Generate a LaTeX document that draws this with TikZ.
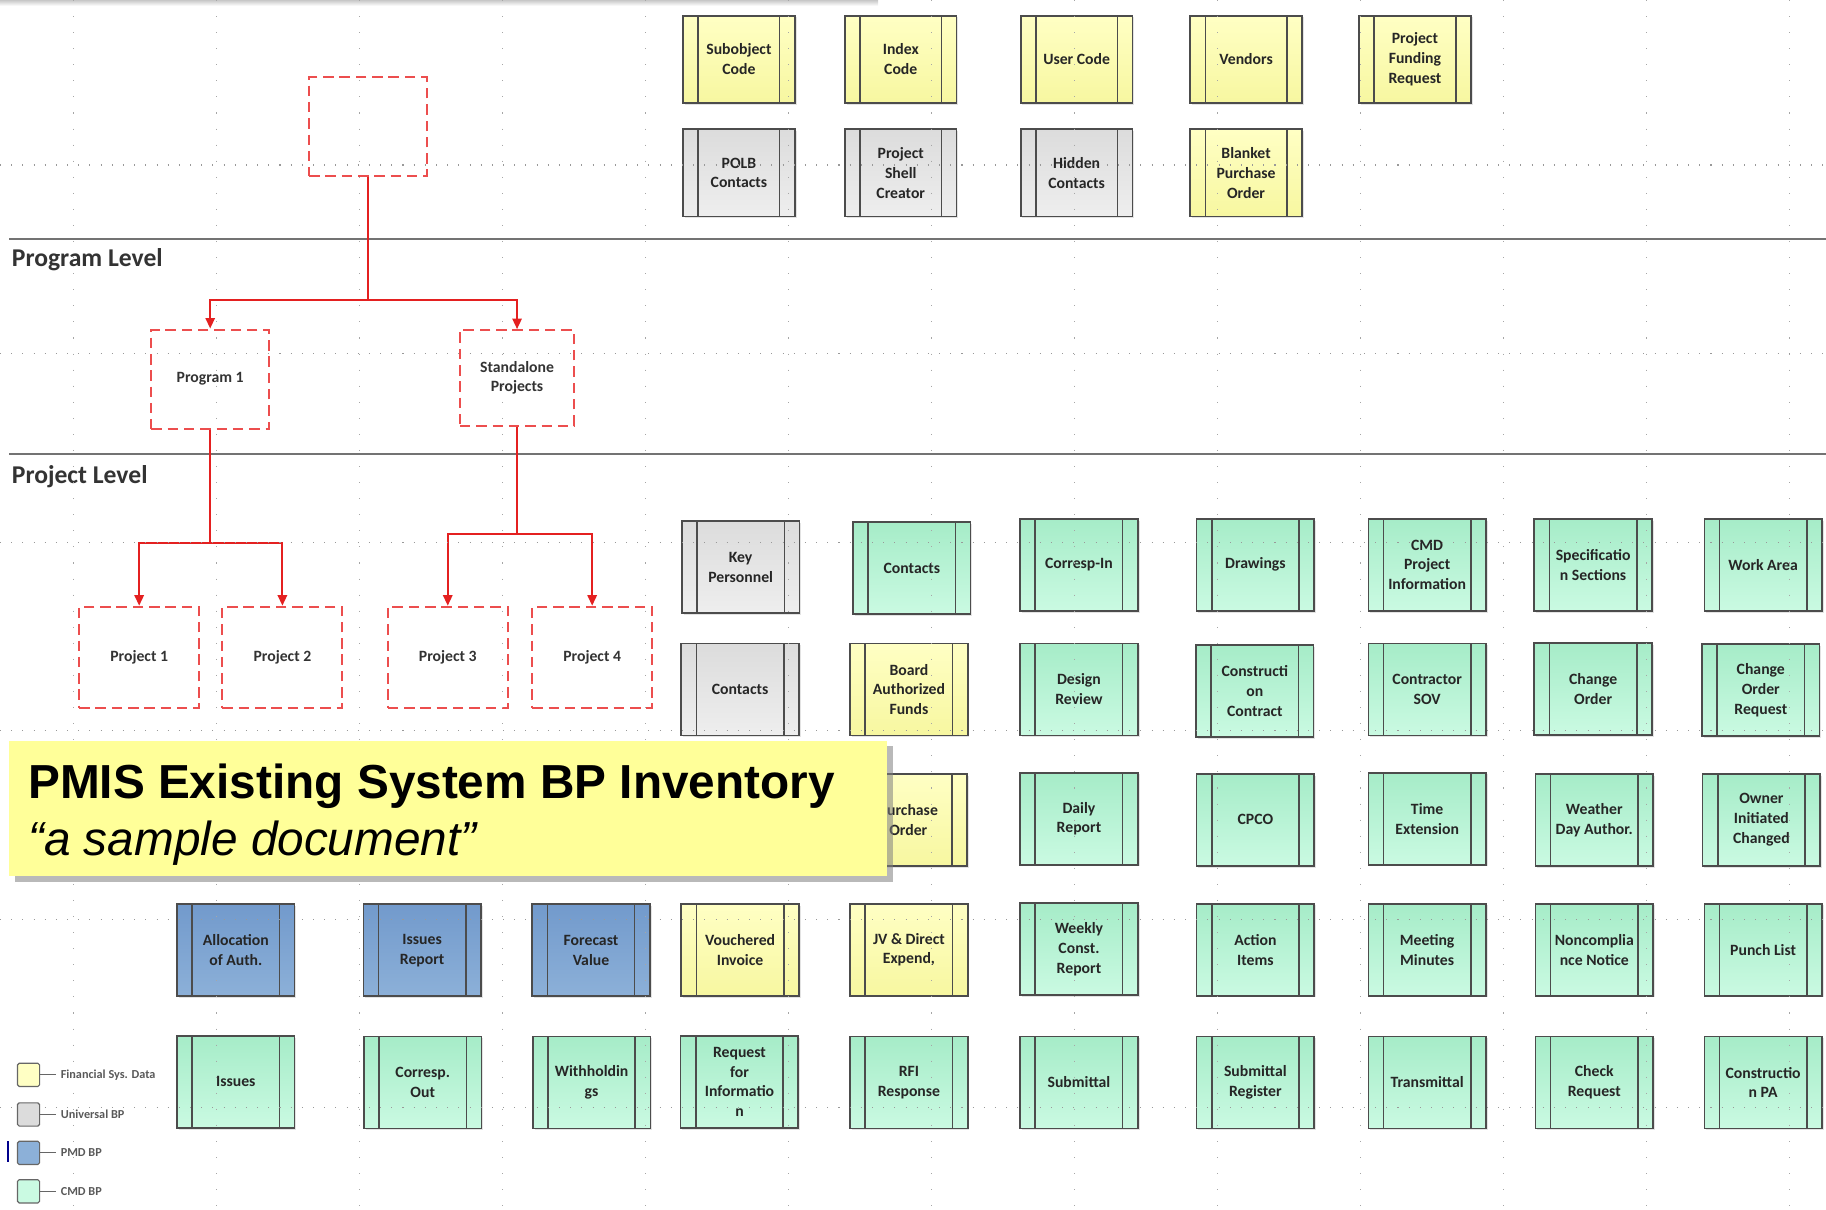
\documentclass[tikz,border=0pt]{standalone}
\usepackage{fontspec}
\setmainfont{Carlito}
\newfontfamily\arialfont{Liberation Sans}
\usetikzlibrary{shadows,arrows.meta}

\definecolor{finyellowtop}{RGB}{255,255,196}
\definecolor{finyellowbot}{RGB}{247,247,160}
\definecolor{unigraytop}{RGB}{220,220,220}
\definecolor{unigraybot}{RGB}{238,238,238}
\definecolor{pmdbluetop}{RGB}{114,154,204}
\definecolor{pmdbluebot}{RGB}{140,176,216}
\definecolor{cmdgreentop}{RGB}{166,236,200}
\definecolor{cmdgreenbot}{RGB}{202,250,226}
\definecolor{titleyellow}{RGB}{255,255,153}
\definecolor{orgred}{RGB}{236,78,78}
\definecolor{arrowred}{RGB}{228,32,32}

\tikzset{
  bp/.style={draw=black!70, line width=1.4pt, minimum width=101pt, minimum height=79pt,
    inner sep=0pt, align=center, text=black!85, font=\bfseries\fontsize{13.5}{17}\selectfont,
    drop shadow={opacity=0.22, shadow xshift=1.5pt, shadow yshift=-1.5pt},
    path picture={
      \draw[black!70, line width=1.4pt] ([xshift=13pt]path picture bounding box.north west) -- ([xshift=13pt]path picture bounding box.south west);
      \draw[black!70, line width=1.4pt] ([xshift=-13pt]path picture bounding box.north east) -- ([xshift=-13pt]path picture bounding box.south east);}},
  fin/.style={bp, top color=finyellowtop, bottom color=finyellowbot},
  uni/.style={bp, top color=unigraytop, bottom color=unigraybot},
  pmd/.style={bp, top color=pmdbluetop, bottom color=pmdbluebot},
  cmd/.style={bp, top color=cmdgreentop, bottom color=cmdgreenbot},
  topbp/.style={minimum width=96pt, minimum height=75pt},
  orgbox/.style={draw=orgred, line width=1.8pt, dash pattern=on 9pt off 5pt, minimum width=101pt,
    minimum height=85pt, align=center, text=black!80, font=\bfseries\fontsize{13.5}{17}\selectfont},
  orgarrow/.style={draw=arrowred, line width=1.6pt, -{Triangle[length=9pt,width=8pt]}},
  levelline/.style={draw=black!55, line width=2pt},
  levellabel/.style={anchor=west, inner sep=0pt, text=black!80, font=\bfseries\fontsize{22}{26}\selectfont},
  gridv/.style={draw=black!35, line width=0.9pt, dash pattern=on 0.9pt off 12.9pt},
  gridh/.style={draw=black!40, line width=0.9pt, dash pattern=on 0.9pt off 8.7pt},
  legendsq/.style={draw=black!60, line width=1pt, minimum width=19pt, minimum height=20pt,
    rounded corners=1.5pt, inner sep=0pt},
  legendtext/.style={anchor=west, inner sep=0pt, text=black!65, font=\bfseries\fontsize{10.5}{12}\selectfont},
  legendline/.style={draw=black!60, line width=1pt, shorten >=4pt},
}

\begin{document}
\begin{tikzpicture}[x=1pt, y=-1pt]
\useasboundingbox (0,0) rectangle (1568,1039);
\shade[top color=black!22, bottom color=white] (0,0) rectangle (754,5);

% program / project levels
\draw[levelline] (8,205) -- (1568,205);
\draw[levelline] (8,390) -- (1568,390);
\node[levellabel] (proglevel) at (10,223) {Program Level};
\node[levellabel] (projlevel) at (10,409) {Project Level};

% hierarchy
\node[orgbox] (root) at (316,109) {};
\node[orgbox] (prog1) at (180.5,325.5) {Program 1};
\node[orgbox, minimum width=98pt, minimum height=82pt] (stand) at (444,324.5) {Standalone\\Projects};
\node[orgbox, minimum width=103pt, minimum height=87pt] (proj1) at (119.5,564.5) {Project 1};
\node[orgbox, minimum width=103pt, minimum height=87pt] (proj2) at (242.5,564.5) {Project 2};
\node[orgbox, minimum width=103pt, minimum height=87pt] (proj3) at (384.5,564.5) {Project 3};
\node[orgbox, minimum width=103pt, minimum height=87pt] (proj4) at (508.5,564.5) {Project 4};

\draw[orgarrow] (root.south) -- ++(0,105.5) -| (prog1.north);
\draw[orgarrow] (root.south) -- ++(0,105.5) -| (stand.north);
\draw[orgarrow] (prog1.south) -- ++(0,97) -| (proj1.north);
\draw[orgarrow] (prog1.south) -- ++(0,97) -| (proj2.north);
\draw[orgarrow] (stand.south) -- ++(0,92) -| (proj3.north);
\draw[orgarrow] (stand.south) -- ++(0,92) -| (proj4.north);

% program level BPs
\node[fin, topbp] (subobj) at (634.5,51) {Subobject\\Code};
\node[fin, topbp] (index) at (773.5,51) {Index\\Code};
\node[fin, topbp] (usercode) at (924.5,51) {User Code};
\node[fin, topbp] (vendors) at (1070,51) {Vendors};
\node[fin, topbp] (fundreq) at (1215,51) {Project\\Funding\\Request};
\node[uni, topbp] (polb) at (634.5,148.5) {POLB\\Contacts};
\node[uni, topbp] (shell) at (773.5,148.5) {Project\\Shell\\Creator};
\node[uni, topbp] (hidden) at (924.5,148.5) {Hidden\\Contacts};
\node[fin, topbp] (blanket) at (1070,148.5) {Blanket\\Purchase\\Order};

% project level BPs, row 1
\node[uni] (keypers) at (636,487) {Key\\Personnel};
\node[cmd] (contacts) at (783,488) {Contacts};
\node[cmd] (corrin) at (926.5,485) {Corresp-In};
\node[cmd] (drawings) at (1078,485) {Drawings};
\node[cmd] (projinfo) at (1225.5,485) {CMD\\Project\\Information};
\node[cmd] (specs) at (1368,485) {Specificatio\\n Sections};
\node[cmd] (workarea) at (1514,485) {Work Area};

% row 2
\node[uni] (unicontacts) at (635.5,592) {Contacts};
\node[fin] (boardfunds) at (780.5,592) {Board\\Authorized\\Funds};
\node[cmd] (designrev) at (926.5,592) {Design\\Review};
\node[cmd] (contract) at (1077.5,593.5) {Constructi\\on\\Contract};
\node[cmd] (sov) at (1225.5,592) {Contractor\\SOV};
\node[cmd] (changeord) at (1368,591.5) {Change\\Order};
\node[cmd] (cor) at (1512,592.5) {Change\\Order\\Request};

% row 3
\node[fin] (purchord) at (780,704) {Purchase\\Order};
\node[cmd] (daily) at (926.5,703) {Daily\\Report};
\node[cmd] (cpco) at (1078,704) {CPCO};
\node[cmd] (timeext) at (1225.5,703) {Time\\Extension};
\node[cmd] (weather) at (1369,704) {Weather\\Day Author.};
\node[cmd] (owner) at (1512.5,704) {Owner\\Initiated\\Changed};

% row 4
\node[pmd] (alloc) at (202.5,816) {Allocation\\of Auth.};
\node[pmd] (issuesrep) at (362.5,816) {Issues\\Report};
\node[pmd] (forecast) at (507.5,816) {Forecast\\Value};
\node[fin] (voucher) at (635.5,816) {Vouchered\\Invoice};
\node[fin] (jvexp) at (780.5,815.5) {JV \& Direct\\Expend,};
\node[cmd] (weekly) at (926.5,815) {Weekly\\Const.\\Report};
\node[cmd] (actions) at (1078,815.5) {Action\\Items};
\node[cmd] (minutes) at (1225.5,815.5) {Meeting\\Minutes};
\node[cmd] (noncomp) at (1369,815.5) {Noncomplia\\nce Notice};
\node[cmd] (punch) at (1514,815.5) {Punch List};

% row 5
\node[cmd] (issues) at (202.5,929) {Issues};
\node[cmd] (corrout) at (363,929.5) {Corresp.\\Out};
\node[cmd] (withhold) at (508,929.5) {Withholdin\\gs};
\node[cmd] (rfi) at (635,929) {Request\\for\\Informatio\\n};
\node[cmd] (rfiresp) at (780.5,929.5) {RFI\\Response};
\node[cmd] (submittal) at (926.5,929.5) {Submittal};
\node[cmd] (subreg) at (1078,929.5) {Submittal\\Register};
\node[cmd] (transmit) at (1225.5,929.5) {Transmittal};
\node[cmd] (checkreq) at (1369,929.5) {Check\\Request};
\node[cmd] (constpa) at (1514,929.5) {Constructio\\n PA};

% page grid
\draw[gridv] (63,0) -- (63,1039);
\draw[gridv] (185.8,0) -- (185.8,1039);
\draw[gridv] (308.6,0) -- (308.6,1039);
\draw[gridv] (431.4,0) -- (431.4,1039);
\draw[gridv] (554.2,0) -- (554.2,1039);
\draw[gridv] (677,0) -- (677,1039);
\draw[gridv] (799.8,0) -- (799.8,1039);
\draw[gridv] (922.6,0) -- (922.6,1039);
\draw[gridv] (1045.4,0) -- (1045.4,1039);
\draw[gridv] (1168.2,0) -- (1168.2,1039);
\draw[gridv] (1291,0) -- (1291,1039);
\draw[gridv] (1413.8,0) -- (1413.8,1039);
\draw[gridv] (1536.6,0) -- (1536.6,1039);
\draw[gridh] (0,141.7) -- (1568,141.7);
\draw[gridh] (0,303.6) -- (1568,303.6);
\draw[gridh] (0,465.5) -- (1568,465.5);
\draw[gridh] (0,627.4) -- (1568,627.4);
\draw[gridh] (0,789.3) -- (1568,789.3);
\draw[gridh] (0,951.2) -- (1568,951.2);

% legend
\node[legendsq, fill=finyellowtop] (lgfin) at (24.5,923) {};
\node[legendsq, fill=unigraytop] (lguni) at (24.5,957) {};
\node[legendsq, fill=pmdbluebot] (lgpmd) at (24.5,990) {};
\node[legendsq, fill=cmdgreenbot] (lgcmd) at (24.5,1023) {};
\node[legendtext] (lgfintext) at (52,923) {Financial Sys. Data};
\node[legendtext] (lgunitext) at (52,957) {Universal BP};
\node[legendtext] (lgpmdtext) at (52,990) {PMD BP};
\node[legendtext] (lgcmdtext) at (52,1023) {CMD BP};
\draw[legendline] (lgfin.east) -- (lgfintext.west);
\draw[legendline] (lguni.east) -- (lgunitext.west);
\draw[legendline] (lgpmd.east) -- (lgpmdtext.west);
\draw[legendline] (lgcmd.east) -- (lgcmdtext.west);
\draw[blue!55!black, line width=1.2pt] (7,980) -- (7,998);

% title
\node[fill=titleyellow, minimum width=754pt, minimum height=116pt, inner sep=0pt,
  drop shadow={opacity=0.55, shadow xshift=5pt, shadow yshift=-5pt}] (title) at (385,694) {};
\node[anchor=base west, inner sep=0pt, font=\arialfont\bfseries\fontsize{41}{49}\selectfont] (titlemain) at (24,686) {PMIS Existing System BP Inventory};
\node[anchor=base west, inner sep=0pt, font=\arialfont\itshape\fontsize{41}{49}\selectfont] (titlesub) at (24,735) {“a sample document”};
\end{tikzpicture}
\end{document}
